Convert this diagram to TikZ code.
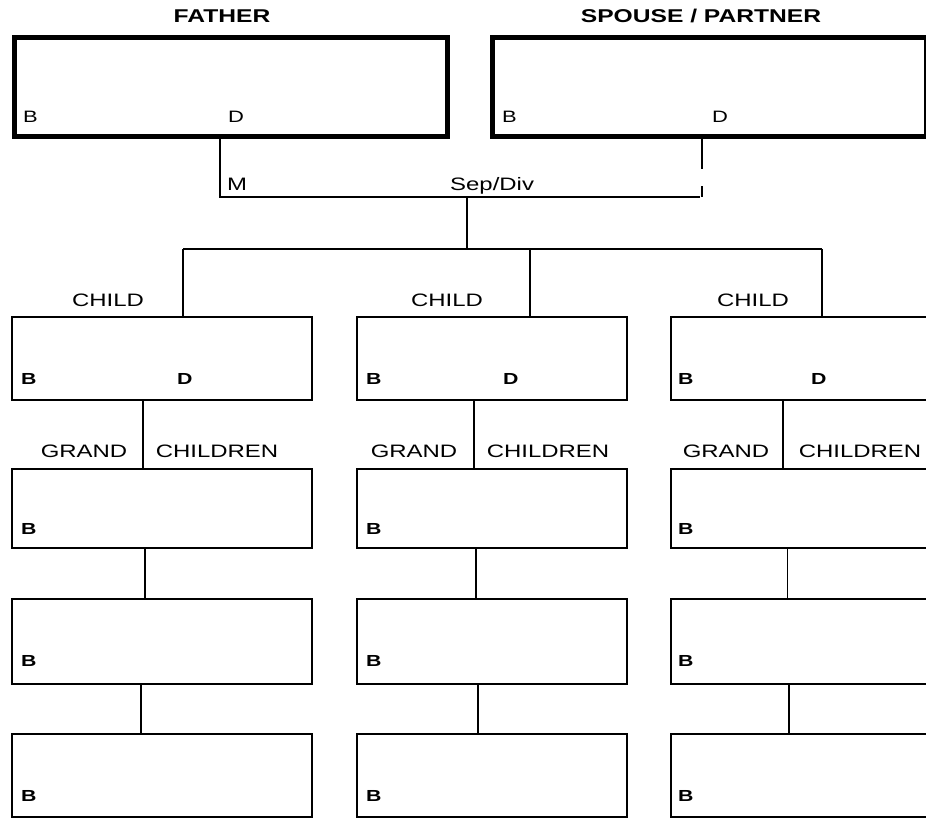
\documentclass[tikz,border=0pt]{standalone}
\usepackage{fontspec}
\setmainfont{Liberation Sans}[FakeStretch=1.33]
\begin{document}
\begin{tikzpicture}[x=1pt,y=-1pt,
  bigbox/.style={draw, line width=5pt, anchor=north west, inner sep=0pt, minimum height=99pt},
  kidbox/.style={draw, line width=1.8pt, anchor=north west, inner sep=0pt},
  lbl/.style={font=\fontsize{18}{20}\selectfont, inner sep=0pt, anchor=base},
  lblw/.style={font=\fontsize{18}{20}\selectfont, inner sep=0pt, anchor=base west},
  ttl/.style={font=\bfseries\fontsize{18.5}{20}\selectfont, inner sep=0pt, anchor=base},
  bd/.style={font=\bfseries\fontsize{16}{18}\selectfont, inner sep=0pt, anchor=base west},
  fbd/.style={font=\fontsize{16.5}{18}\selectfont, inner sep=0pt, anchor=base west},
  thinln/.style={line width=1.2pt},
  medln/.style={line width=1.6pt},
  thkln/.style={line width=2.1pt}]
\useasboundingbox (0,0) rectangle (926,818);
\fill[white] (0,0) rectangle (926,818);
\clip (0,0) rectangle (926,818);

% parents
\node[ttl] (tF) at (222,23) {FATHER};
\node[ttl] (tS) at (701,23) {SPOUSE / PARTNER};
\node[bigbox, minimum width=433pt] (father) at (11.5,35.5) {};
\node[bigbox, minimum width=434pt] (spouse) at (489.5,35.5) {};
\node[fbd] (fB) at (23,123) {B};
\node[fbd] (fD) at (228,123) {D};
\node[fbd] (sB) at (502,123) {B};
\node[fbd] (sD) at (712,123) {D};

% rows of boxes
\foreach \r/\t/\h in {c/316/83, g/468/79, h/598/85, k/733/83}{
  \node[kidbox, minimum width=300pt, minimum height=\h pt] (\r1) at (11,\t) {};
  \node[kidbox, minimum width=270pt, minimum height=\h pt] (\r2) at (356,\t) {};
  \node[kidbox, minimum width=300pt, minimum height=\h pt] (\r3) at (670,\t) {};
}

% marriage connectors
\coordinate (mL) at (220,197);
\coordinate (mR) at (702,197);
\coordinate (mE) at (700,197);
\draw[thinln] (father.south -| mL) -- (mL) -- (mE);
\draw[medln, dash pattern=on 30pt off 17pt on 20pt off 10pt] (spouse.south -| mR) -- (mR);
\node[lblw] (tM) at (227,191) {M};
\node[lblw] (tSep) at (450,191) {Sep/Div};

\coordinate (j1) at (467,197);
\coordinate (j2) at (467,249);
\draw[thkln] (j1) -- (j2);
\coordinate (bL) at (183,249);
\coordinate (b2) at (530,249);
\coordinate (bR) at (822,249);
\draw[thinln] (bL) -- (bR);
\draw[thinln] (bL) -- (c1.north -| bL);
\draw[thkln] (b2) -- (c2.north -| b2);
\draw[thinln] (bR) -- (c3.north -| bR);

% child labels
\node[lbl] (tC1) at (108,306) {CHILD};
\node[lbl] (tC2) at (447,306) {CHILD};
\node[lbl] (tC3) at (753,306) {CHILD};

% B / D labels
\node[bd] (c1B) at (21,384) {B};
\node[bd] (c1D) at (177,384) {D};
\node[bd] (c2B) at (366,384) {B};
\node[bd] (c2D) at (503,384) {D};
\node[bd] (c3B) at (678,384) {B};
\node[bd] (c3D) at (811,384) {D};
\node[bd] (g1B) at (21,534) {B};
\node[bd] (g2B) at (366,534) {B};
\node[bd] (g3B) at (678,534) {B};
\node[bd] (h1B) at (21,666) {B};
\node[bd] (h2B) at (366,666) {B};
\node[bd] (h3B) at (678,666) {B};
\node[bd] (k1B) at (21,801) {B};
\node[bd] (k2B) at (366,801) {B};
\node[bd] (k3B) at (678,801) {B};

% grand children labels
\node[lbl] (tG1) at (84,457) {GRAND};
\node[lbl] (tH1) at (217,457) {CHILDREN};
\node[lbl] (tG2) at (414,457) {GRAND};
\node[lbl] (tH2) at (548,457) {CHILDREN};
\node[lbl] (tG3) at (726,457) {GRAND};
\node[lbl] (tH3) at (860,457) {CHILDREN};

% vertical links
\draw[thinln] (c1.south -| 143,0) -- (g1.north -| 143,0);
\draw[thinln] (c2.south -| 474,0) -- (g2.north -| 474,0);
\draw[thinln] (c3.south -| 783,0) -- (g3.north -| 783,0);
\draw[thkln] (g1.south -| 145,0) -- (h1.north -| 145,0);
\draw[medln] (g2.south -| 476,0) -- (h2.north -| 476,0);
\draw[line width=0.9pt] (g3.south -| 787,0) -- (h3.north -| 787,0);
\draw[thkln] (h1.south -| 141,0) -- (k1.north -| 141,0);
\draw[thkln] (h2.south -| 478,0) -- (k2.north -| 478,0);
\draw[thkln] (h3.south -| 789,0) -- (k3.north -| 789,0);
\end{tikzpicture}
\end{document}
